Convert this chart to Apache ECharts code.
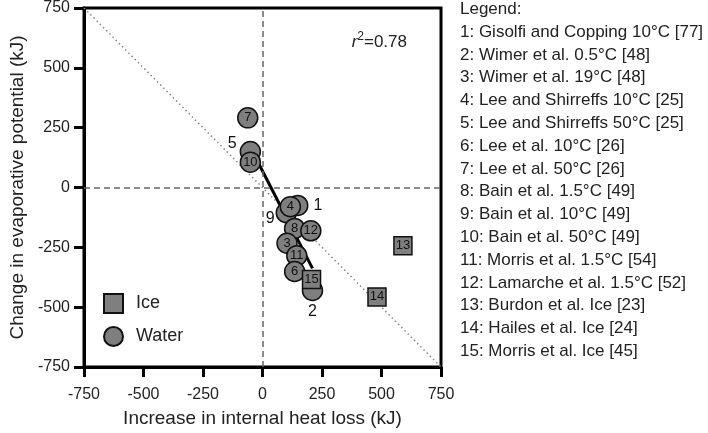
<!DOCTYPE html>
<html><head><meta charset="utf-8">
<script src="https://cdn.jsdelivr.net/npm/echarts@6/dist/echarts.min.js"></script>
<style>html,body{margin:0;padding:0;background:#fff}#c{width:708px;height:433px}</style>
</head><body><div id="c"></div>
<script>
// ---- data ----
const waterIds = [1, 9, 5, 2, 4, 10, 7, 8, 12, 3, 11, 6];
const waterX   = [148, 100, -51, 210, 117, -51, -62, 135, 203, 103, 144, 135];
const waterY   = [-75, -105, 150, -430, -80, 106, 291, -171, -181, -233, -285, -351];
const iceIds = [13, 14, 15];
const iceX   = [590, 481, 206];
const iceY   = [-243, -457, -384];
const fitX = [-62, 210];
const fitY = [189, -338];
const identityX = [-750, 750];
const identityY = [750, -750];
const axisMin = -750, axisMax = 750, axisStep = 250;
const r2Value = '0.78';
const legendTitle = 'Legend:';
const legendLines = [
  '1: Gisolfi and Copping 10°C [77]',
  '2: Wimer et al. 0.5°C [48]',
  '3: Wimer et al. 19°C [48]',
  '4: Lee and Shirreffs 10°C [25]',
  '5: Lee and Shirreffs 50°C [25]',
  '6: Lee et al. 10°C [26]',
  '7: Lee et al. 50°C [26]',
  '8: Bain et al. 1.5°C [49]',
  '9: Bain et al. 10°C [49]',
  '10: Bain et al. 50°C [49]',
  '11: Morris et al. 1.5°C [54]',
  '12: Lamarche et al. 1.5°C [52]',
  '13: Burdon et al. Ice [23]',
  '14: Hailes et al. Ice [24]',
  '15: Morris et al. Ice [45]'
];
const xName = 'Increase in internal heat loss (kJ)';
const yName = 'Change in evaporative potential (kJ)';

// ---- styling ----
const FONT = 'Liberation Sans, Arial, sans-serif';
const outsideLabels = {
  1: {position: 'right', distance: 5, fontSize: 16},
  9: {position: 'left', distance: 1, offset: [0, 6], fontSize: 16},
  5: {position: 'left', distance: 3, offset: [0, -8], fontSize: 16},
  2: {position: 'bottom', distance: 2, fontSize: 16}
};
function mkPoints(ids, xs, ys) {
  return ids.map((id, i) => {
    const d = {value: [xs[i], ys[i]], name: String(id)};
    if (outsideLabels[id]) d.label = Object.assign({show: true, color: '#111'}, outsideLabels[id]);
    return d;
  });
}
const markerStyle = {color: '#7f7f7f', borderColor: '#111', borderWidth: 1.5, opacity: 1};
const insideLabel = {show: true, position: 'inside', formatter: '{b}', fontSize: 13, color: '#111', fontFamily: FONT};

const axisCommon = {
  type: 'value', min: axisMin, max: axisMax, interval: axisStep,
  axisLine: {show: true, onZero: false, lineStyle: {color: '#000', width: 3}},
  axisTick: {show: true, inside: false, length: 10, lineStyle: {color: '#000', width: 3}},
  splitLine: {show: false},
  nameLocation: 'middle',
  nameTextStyle: {fontSize: 19, color: '#222', fontFamily: FONT}
};

const chart = echarts.init(document.getElementById('c'), null, {renderer: 'canvas'});
chart.setOption({
  animation: false,
  backgroundColor: '#fff',
  textStyle: {fontFamily: FONT},
  grid: {left: 77, right: 267, top: 7, bottom: 64, containLabel: false, show: true, borderColor: '#000', borderWidth: 3, backgroundColor: 'transparent'},
  xAxis: Object.assign({}, axisCommon, {
    name: xName, nameGap: 42,
    axisLabel: {fontSize: 16, color: '#222', margin: 20, fontFamily: FONT}
  }),
  yAxis: Object.assign({}, axisCommon, {
    name: yName, nameGap: 57,
    axisLabel: {fontSize: 16, color: '#222', margin: 14, fontFamily: FONT}
  }),
  legend: {
    data: [{name: 'Ice', icon: 'rect'}, {name: 'Water', icon: 'circle'}],
    orient: 'vertical', left: 103, top: 293, itemGap: 12, padding: 0,
    itemWidth: 19, itemHeight: 19,
    textStyle: {fontSize: 18, lineHeight: 19, color: '#222', fontFamily: FONT, padding: [0, 0, 0, 8]}
  },
  graphic: [
    {type: 'text', right: 301, top: 31, style: {
      text: '{i|r}{s|2}{n|=' + r2Value + '}',
      rich: {
        i: {fontStyle: 'italic', fontSize: 17, fontFamily: FONT, fill: '#222', verticalAlign: 'bottom'},
        s: {fontSize: 12, fontFamily: FONT, fill: '#222', verticalAlign: 'top', padding: [0, 0, 8, 0]},
        n: {fontSize: 17, fontFamily: FONT, fill: '#222', verticalAlign: 'bottom'}
      }
    }},
    {type: 'text', left: 460, top: -2, style: {
      text: [legendTitle].concat(legendLines).join('\n'),
      font: '17px ' + FONT, fill: '#222', lineHeight: 22.8
    }}
  ],
  series: [
    {
      type: 'line', name: 'identity', data: identityX.map((x, i) => [x, identityY[i]]),
      symbol: 'none', silent: true, z: 1,
      lineStyle: {color: '#888', width: 1.5, type: [1.5, 3]},
      markLine: {
        silent: true, symbol: 'none', label: {show: false},
        lineStyle: {color: '#666', width: 1.5, type: [6, 4]},
        data: [{xAxis: 0}, {yAxis: 0}]
      }
    },
    {
      type: 'line', name: 'fit', data: fitX.map((x, i) => [x, fitY[i]]),
      symbol: 'none', silent: true, z: 2,
      lineStyle: {color: '#000', width: 3}
    },
    {
      type: 'scatter', name: 'Water', symbol: 'circle', symbolSize: 20, z: 3,
      data: mkPoints(waterIds, waterX, waterY),
      itemStyle: markerStyle, label: insideLabel
    },
    {
      type: 'scatter', name: 'Ice', symbol: 'rect', symbolSize: 18, z: 4,
      data: mkPoints(iceIds, iceX, iceY),
      itemStyle: markerStyle, label: insideLabel
    }
  ]
});
</script></body></html>
